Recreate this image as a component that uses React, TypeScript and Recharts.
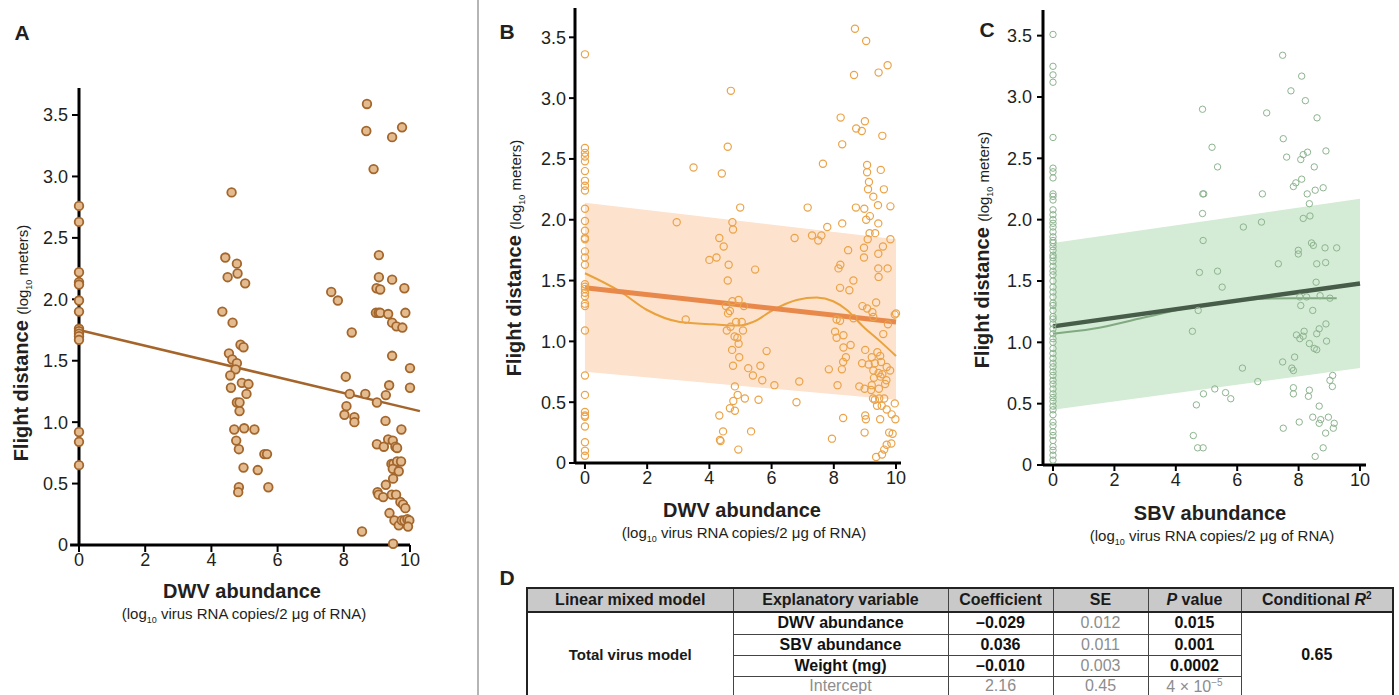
import React from 'react';
import { ComposedChart, Scatter, Line, Area, XAxis, YAxis, ReferenceLine } from 'recharts';

const FONT = '"Liberation Sans", Arial, Helvetica, sans-serif';
const INK = '#231f20';

const X_TICKS = [0, 2, 4, 6, 8, 10];
const Y_TICKS = [0, 0.5, 1, 1.5, 2, 2.5, 3, 3.5];

// panel A: DWV abundance vs flight distance
const A_ZERO = [2.76, 2.63, 2.22, 2.14, 2.12, 1.99, 1.9, 1.76, 1.74, 1.72, 1.7, 1.67, 0.92, 0.84, 0.65];
const A_POINTS = [
  [4.61, 2.87], [4.42, 2.34], [4.77, 2.29], [4.49, 2.18], [4.79, 2.21], [5.02, 2.13], [4.33, 1.9], [4.64, 1.81],
  [4.88, 1.63], [4.97, 1.61], [4.53, 1.56], [4.63, 1.51], [4.77, 1.48], [4.73, 1.43], [4.57, 1.38], [4.92, 1.32],
  [5.12, 1.31], [4.59, 1.28], [5.06, 1.23], [4.77, 1.16], [4.85, 1.16], [4.85, 1.09], [4.69, 0.94], [4.99, 0.95],
  [5.3, 0.94], [4.75, 0.85], [4.83, 0.78], [5.6, 0.74], [5.68, 0.74], [4.97, 0.63], [5.4, 0.61], [4.83, 0.47],
  [4.81, 0.43], [5.72, 0.47],
  [8.7, 3.59], [8.68, 3.37], [9.76, 3.4], [9.46, 3.32], [8.9, 3.06], [9.06, 2.36], [9.06, 2.18], [9.46, 2.16],
  [8.99, 2.09], [9.1, 2.08], [9.83, 2.09], [7.62, 2.06], [7.82, 1.99], [8.97, 1.89], [9.05, 1.89], [9.1, 1.89],
  [9.34, 1.88], [9.86, 1.89], [9.46, 1.81], [9.59, 1.78], [9.77, 1.77], [8.24, 1.73], [9.46, 1.54], [10.0, 1.44],
  [8.06, 1.37], [9.37, 1.3], [10.0, 1.28], [8.18, 1.23], [8.65, 1.23], [9.27, 1.22], [9.0, 1.16], [8.08, 1.13],
  [8.02, 1.06], [8.32, 1.04], [8.32, 1.0], [9.26, 1.01], [9.74, 0.94], [9.0, 0.82], [9.21, 0.8], [9.34, 0.86],
  [9.48, 0.85], [9.56, 0.8], [9.61, 0.79], [9.44, 0.66], [9.5, 0.66], [9.61, 0.68], [9.73, 0.68], [9.48, 0.62],
  [9.66, 0.6], [9.49, 0.54], [9.27, 0.49], [9.02, 0.43], [9.05, 0.41], [9.19, 0.39], [9.45, 0.41], [9.58, 0.41],
  [9.71, 0.35], [9.79, 0.33], [9.86, 0.3], [9.38, 0.26], [9.53, 0.2], [9.66, 0.16], [9.75, 0.2], [9.83, 0.2],
  [9.92, 0.21], [9.98, 0.2], [9.94, 0.15], [8.55, 0.11], [9.49, 0.01],
];
const A_FIT = [{ x: 0, y: 1.75 }, { x: 10.3, y: 1.09 }];

// panel B: DWV abundance, model fit
const B_ZERO = [3.36, 2.59, 2.55, 2.52, 2.48, 2.4, 2.32, 2.28, 2.24, 2.09, 1.99, 1.91, 1.85, 1.84, 1.74, 1.69, 1.63,
  1.47, 1.45, 1.43, 1.4, 1.37, 1.31, 1.29, 1.09, 0.72, 0.56, 0.42, 0.39, 0.38, 0.3, 0.17, 0.1, 0.06];
const B_POINTS = [
  [2.95, 1.98], [3.49, 2.43], [3.24, 1.18], [4.0, 1.67], [4.23, 1.69], [4.32, 1.85], [4.46, 1.78], [4.4, 2.38],
  [4.59, 2.6], [4.69, 3.06], [4.99, 2.1], [4.74, 1.98], [4.76, 1.92], [4.62, 1.63], [4.59, 1.5], [5.47, 1.59],
  [4.74, 1.33], [4.94, 1.34], [5.11, 1.29], [4.53, 1.29], [4.66, 1.25], [4.6, 1.23], [4.86, 1.16], [5.04, 1.16],
  [4.56, 1.09], [4.68, 1.12], [5.08, 1.09], [4.81, 1.04], [4.9, 1.03], [4.94, 0.98], [4.73, 0.93], [5.84, 0.92],
  [4.96, 0.87], [4.76, 0.8], [5.25, 0.78], [5.64, 0.8], [5.4, 0.72], [5.7, 0.68], [6.09, 0.64], [6.89, 0.67],
  [7.84, 0.77], [4.82, 0.63], [4.91, 0.56], [4.77, 0.51], [5.14, 0.53], [5.58, 0.52], [6.8, 0.5], [4.66, 0.45],
  [4.82, 0.43], [4.32, 0.39], [4.44, 0.26], [5.34, 0.26], [4.34, 0.19], [4.36, 0.18], [4.93, 0.11], [7.94, 0.2],
  [7.65, 2.46], [7.16, 2.1], [7.79, 1.94], [6.74, 1.85], [7.3, 1.87], [7.6, 1.87], [7.5, 1.83],
  [8.68, 3.57], [9.04, 3.47], [9.73, 3.27], [9.44, 3.21], [8.65, 3.19], [8.22, 2.84], [9.0, 2.81], [8.72, 2.75],
  [8.9, 2.73], [9.56, 2.69], [8.27, 2.62], [9.07, 2.45], [9.07, 2.39], [9.51, 2.41], [9.13, 2.31], [9.1, 2.25],
  [9.61, 2.25], [9.27, 2.19], [8.71, 2.1], [8.98, 2.09], [9.42, 2.12], [9.82, 2.11], [9.16, 2.03], [9.04, 2.0],
  [8.27, 1.97], [9.43, 1.97], [9.15, 1.89], [9.33, 1.89], [9.09, 1.84], [9.82, 1.84], [8.46, 1.75], [8.97, 1.77],
  [9.58, 1.78], [8.97, 1.69], [9.43, 1.72], [8.21, 1.63], [8.15, 1.6], [9.43, 1.6], [9.73, 1.6], [9.44, 1.53],
  [8.63, 1.5], [8.2, 1.44], [8.5, 1.42], [9.36, 1.32], [8.92, 1.29], [9.07, 1.27], [9.24, 1.24], [10.0, 1.23],
  [9.96, 1.22], [8.09, 1.18], [8.2, 1.17], [9.27, 1.2], [8.63, 1.19], [9.74, 1.14], [8.04, 1.08], [8.31, 1.05],
  [8.09, 1.03], [9.59, 1.06], [8.54, 0.97], [8.31, 0.95], [9.01, 0.93], [9.4, 0.91], [9.49, 0.88], [8.39, 0.87],
  [8.3, 0.83], [8.91, 0.82], [9.22, 0.87], [9.12, 0.81], [9.32, 0.82], [9.52, 0.83], [9.7, 0.79], [9.81, 0.76],
  [8.26, 0.77], [9.27, 0.76], [9.44, 0.74], [9.56, 0.73], [9.5, 0.71], [9.29, 0.7], [9.69, 0.68], [9.65, 0.65],
  [8.12, 0.64], [8.82, 0.63], [8.99, 0.61], [9.22, 0.64], [9.45, 0.61], [9.2, 0.6], [9.26, 0.53], [9.32, 0.52],
  [9.46, 0.53], [9.62, 0.53], [9.96, 0.49], [9.39, 0.47], [9.54, 0.47], [8.3, 0.37], [9.01, 0.39], [9.03, 0.36],
  [9.49, 0.36], [9.7, 0.44], [9.86, 0.4], [9.98, 0.36], [8.99, 0.25], [9.78, 0.25], [9.89, 0.24], [9.7, 0.15],
  [9.85, 0.16], [9.62, 0.11], [9.55, 0.07], [9.36, 0.05],
];
const B_LOESS = [[0, 1.56], [1.13, 1.41], [1.98, 1.26], [3.05, 1.16], [4.13, 1.14], [4.98, 1.13], [5.41, 1.16],
  [6.06, 1.26], [6.81, 1.34], [7.45, 1.36], [7.98, 1.33], [8.41, 1.26], [8.95, 1.12], [9.49, 1.0], [10.0, 0.88]];
const B_FIT = [[0, 1.44], [10, 1.16]];
const B_BAND = [[0, 0.75, 2.14], [10, 0.52, 1.84]];

// panel C: SBV abundance, model fit
const C_ZERO = [3.51, 3.25, 3.18, 3.12, 2.67, 2.42, 2.39, 2.34, 2.21, 2.19, 2.16, 2.08, 2.04, 2.0, 1.97, 1.94, 1.9,
  1.86, 1.83, 1.81, 1.78, 1.75, 1.71, 1.69, 1.66, 1.62, 1.58, 1.55, 1.5, 1.45, 1.41, 1.37, 1.32, 1.3, 1.26, 1.21,
  1.19, 1.15, 1.11, 1.07, 1.03, 1.0, 0.95, 0.91, 0.87, 0.83, 0.8, 0.76, 0.73, 0.69, 0.66, 0.62, 0.58, 0.55, 0.52,
  0.48, 0.45, 0.41, 0.35, 0.32, 0.27, 0.24, 0.2, 0.15, 0.12, 0.08, 0.04];
const C_POINTS = [
  [4.87, 2.9], [5.18, 2.59], [5.36, 2.43], [4.88, 2.21], [4.91, 2.21], [4.87, 2.05], [4.89, 1.83], [4.77, 1.57],
  [5.36, 1.58], [5.51, 1.45], [4.54, 1.09], [4.73, 1.26], [4.67, 0.49], [4.9, 0.58], [5.27, 0.62], [5.62, 0.59],
  [5.79, 0.54], [4.57, 0.24], [4.71, 0.14], [4.89, 0.14], [6.17, 0.79], [6.2, 1.94], [6.67, 0.68], [6.79, 1.98],
  [6.82, 2.21], [6.96, 2.87], [7.34, 1.64], [7.48, 3.34], [7.5, 2.66], [7.61, 2.51], [7.48, 0.84], [7.5, 0.3],
  [7.75, 3.05], [7.83, 2.27], [7.91, 2.3], [7.78, 0.79], [7.83, 0.77], [7.87, 0.88], [7.83, 0.63], [7.83, 0.58],
  [7.99, 1.75], [7.99, 1.72], [7.93, 1.06], [8.04, 1.03], [8.07, 1.3], [8.02, 0.35], [8.1, 3.17], [8.07, 2.49],
  [8.15, 2.53], [8.29, 2.55], [8.1, 2.33], [8.22, 2.97], [8.28, 2.21], [8.35, 2.13], [8.37, 2.03], [8.15, 2.01],
  [8.42, 1.81], [8.48, 1.79], [8.18, 1.09], [8.15, 1.05], [8.35, 0.99], [8.51, 0.95], [8.59, 0.94], [8.46, 1.26],
  [8.57, 1.49], [8.51, 2.43], [8.54, 2.24], [8.6, 2.83], [8.59, 1.64], [8.59, 1.07], [8.67, 1.11], [8.35, 0.61],
  [8.32, 0.56], [8.67, 0.48], [8.46, 0.39], [8.67, 0.34], [8.72, 0.37], [8.8, 0.14], [8.54, 0.07], [8.88, 0.26],
  [8.8, 2.26], [8.89, 2.56], [8.86, 1.77], [8.88, 1.65], [8.89, 1.15], [8.91, 1.01], [8.97, 0.39], [9.02, 0.69],
  [9.11, 0.73], [9.1, 0.64], [9.13, 0.3], [9.16, 0.34], [9.24, 1.77], [9.02, 1.36], [8.7, 1.38], [8.26, 1.37],
  [8.04, 1.37],
];
const C_LOESS = [[0, 1.07], [1.3, 1.11], [2.93, 1.2], [4.57, 1.29], [6.2, 1.345], [7.83, 1.36], [9.24, 1.36]];
const C_FIT = [[0, 1.13], [10, 1.48]];
const C_BAND = [[0, 0.45, 1.81], [10, 0.79, 2.17]];

// table D
const TABLE_HEAD = ['Linear mixed model', 'Explanatory variable', 'Coefficient', 'SE', 'P value', 'Conditional R2'];
const TABLE_ROWS = [
  ['DWV abundance', '\u20130.029', '0.012', '0.015'],
  ['SBV abundance', '0.036', '0.011', '0.001'],
  ['Weight (mg)', '\u20130.010', '0.003', '0.0002'],
  ['Intercept', '2.16', '0.45', '4 \u00d7 10'],
];
const MODEL_NAME = 'Total virus model';
const R2 = '0.65';

const pts = (zero: number[], rest: number[][]) =>
  [...zero.map((y) => ({ x: 0, y })), ...rest.map(([x, y]) => ({ x, y }))];
const xy = (arr: number[][]) => arr.map(([x, y]) => ({ x, y }));
const band = (arr: number[][]) => arr.map(([x, lo, hi]) => ({ x, band: [lo, hi] }));

const fmtY = (v: number) => (v === 0 ? '0' : v.toFixed(1));
const tickStyle = { fontSize: 18, fill: INK, fontFamily: FONT };
const axisStyle = { stroke: '#000', strokeWidth: 3 };
const tickLineStyle = { stroke: '#000', strokeWidth: 2 };

const ring = (r: number, stroke: string, sw: number, fill = 'none') => (p: any) =>
  <circle cx={p.cx} cy={p.cy} r={r} fill={fill} stroke={stroke} strokeWidth={sw} />;

const Txt = ({ x, y, size, bold, children, rotate }: any) => (
  <div
    style={{
      position: 'absolute', left: x, top: y, whiteSpace: 'nowrap', lineHeight: 1,
      transform: `translate(-50%, -50%)${rotate ? ' rotate(-90deg)' : ''}`,
      fontFamily: FONT, fontSize: size, fontWeight: bold ? 700 : 400, color: INK,
    }}
  >
    {children}
  </div>
);

const YTitle = ({ x, y }: any) => (
  <Txt x={x} y={y} size={20} bold rotate>
    Flight distance{' '}
    <span style={{ fontSize: 15, fontWeight: 400 }}>
      (log<sub style={{ fontSize: 9 }}>10</sub> meters)
    </span>
  </Txt>
);

const XTitle = ({ x, y, name }: any) => (
  <>
    <Txt x={x} y={y} size={20} bold>{name}</Txt>
    <Txt x={x + 2} y={y + 24} size={15}>
      (log<sub style={{ fontSize: 9 }}>10</sub> virus RNA copies/2 μg of RNA)
    </Txt>
  </>
);

const ModelPanel = ({ left, width, margin, xDomain, yDomain, yTickMargin, zero, rest, loess, fit, bandData, c }: any) => (
  <div style={{ position: 'absolute', left, top: 0 }}>
    <ComposedChart width={width} height={500} margin={margin}>
      <XAxis type="number" dataKey="x" domain={xDomain} ticks={X_TICKS} tick={tickStyle}
        axisLine={axisStyle} tickLine={tickLineStyle} tickSize={6} tickMargin={2} />
      <YAxis type="number" domain={yDomain} ticks={Y_TICKS} tickFormatter={fmtY} tick={tickStyle} width={55}
        axisLine={axisStyle} tickLine={tickLineStyle} tickSize={6} tickMargin={yTickMargin} />
      <Area data={band(bandData)} dataKey="band" type="linear" stroke="none" fill={c.band} fillOpacity={1}
        isAnimationActive={false} />
      <Scatter data={pts(zero, rest)} dataKey="y" shape={ring(c.r, c.point, c.sw)} isAnimationActive={false} />
      <Line data={xy(loess)} dataKey="y" type="monotone" stroke={c.loess} strokeWidth={2} dot={false}
        isAnimationActive={false} />
      <Line data={xy(fit)} dataKey="y" type="linear" stroke={c.fit} strokeWidth={c.fitW} dot={false}
        isAnimationActive={false} />
    </ComposedChart>
  </div>
);

const cell: React.CSSProperties = {
  border: '1px solid #444', textAlign: 'center', padding: 0, fontFamily: FONT, lineHeight: 1,
};

const App = () => (
  <div style={{ position: 'absolute', left: 0, top: 0, width: 1399, height: 695, overflow: 'hidden', background: '#fff' }}>
    {/* panel A */}
    <div style={{ position: 'absolute', left: 0, top: 0 }}>
      <ComposedChart width={440} height={600} margin={{ top: 88, right: 30, bottom: 25, left: 19 }}>
        <XAxis type="number" dataKey="x" domain={[0, 10]} ticks={X_TICKS} tick={tickStyle}
          axisLine={axisStyle} tickLine={tickLineStyle} tickSize={7} tickMargin={1} />
        <YAxis type="number" domain={[0, 3.72]} ticks={Y_TICKS} tickFormatter={fmtY} tick={tickStyle} width={60}
          axisLine={axisStyle} tickLine={tickLineStyle} tickSize={7} tickMargin={4} />
        <ReferenceLine segment={[{ x: -0.27, y: 0 }, { x: 0, y: 0 }]} ifOverflow="visible" stroke="#000" strokeWidth={3} />
        <Scatter data={pts(A_ZERO, A_POINTS)} dataKey="y" shape={ring(4.3, '#a3662c', 1.8, '#e4bb8f')}
          isAnimationActive={false} />
        <ReferenceLine segment={A_FIT} ifOverflow="visible" stroke="#a5652a" strokeWidth={2.5} />
      </ComposedChart>
    </div>
    <Txt x={22} y={32} size={21} bold>A</Txt>
    <YTitle x={22} y={343} />
    <XTitle x={242} y={591} name="DWV abundance" />

    <div style={{ position: 'absolute', left: 477, top: 0, width: 2, height: 695, background: '#b5b5b5' }} />

    {/* panel B */}
    <ModelPanel left={480} width={440} margin={{ top: 8, right: 19, bottom: 7, left: 40 }}
      xDomain={[-0.32, 10.16]} yDomain={[0, 3.741]} yTickMargin={3}
      zero={B_ZERO} rest={B_POINTS} loess={B_LOESS} fit={B_FIT} bandData={B_BAND}
      c={{ band: '#fde2cd', point: '#eba348', r: 3.6, sw: 1.2, loess: '#e9a23c', fit: '#e8894b', fitW: 5 }} />
    <Txt x={507} y={31} size={21} bold>B</Txt>
    <YTitle x={515} y={258} />
    <XTitle x={742} y={510} name="DWV abundance" />

    {/* panel C */}
    <ModelPanel left={960} width={439} margin={{ top: 10, right: 33, bottom: 5, left: 28 }}
      xDomain={[-0.326, 10.195]} yDomain={[0, 3.709]} yTickMargin={5}
      zero={C_ZERO} rest={C_POINTS} loess={C_LOESS} fit={C_FIT} bandData={C_BAND}
      c={{ band: '#d4ebd5', point: '#8db48f', r: 3.2, sw: 1, loess: '#82a981', fit: '#475c49', fitW: 4.5 }} />
    <Txt x={987} y={29} size={21} bold>C</Txt>
    <YTitle x={983} y={250} />
    <XTitle x={1210} y={513} name="SBV abundance" />

    {/* panel D */}
    <Txt x={507} y={577} size={21} bold>D</Txt>
    <table style={{ position: 'absolute', left: 526, top: 587, width: 866, borderCollapse: 'collapse', border: '2px solid #222', tableLayout: 'fixed' }}>
      <colgroup>
        {[206, 215, 105, 95, 93, 152].map((w, i) => <col key={i} style={{ width: w }} />)}
      </colgroup>
      <tbody>
        <tr style={{ height: 24, background: '#c9c9c9' }}>
          {TABLE_HEAD.map((h, i) => (
            <td key={i} style={{ ...cell, fontWeight: 700, fontSize: 16, color: '#1a1a1a', borderBottom: '2px solid #222' }}>
              {i === 4 ? <><i>P</i> value</> : i === 5 ? <>Conditional <i>R</i><sup style={{ fontSize: 10 }}>2</sup></> : h}
            </td>
          ))}
        </tr>
        {TABLE_ROWS.map((row, ri) => {
          const grey = ri === 3;
          return (
            <tr key={ri} style={{ height: ri === 0 ? 22 : 21 }}>
              {ri === 0 && (
                <td rowSpan={4} style={{ ...cell, fontWeight: 700, fontSize: 15, color: '#1a1a1a' }}>{MODEL_NAME}</td>
              )}
              {row.map((v, ci) => (
                <td key={ci} style={{
                  ...cell, fontSize: 16,
                  fontWeight: grey || ci === 2 ? 400 : 700,
                  color: grey || ci === 2 ? '#8d8d8d' : '#111',
                }}>
                  {v}{grey && ci === 3 ? <sup style={{ fontSize: 10 }}>{'\u22125'}</sup> : null}
                </td>
              ))}
              {ri === 0 && (
                <td rowSpan={4} style={{ ...cell, fontWeight: 700, fontSize: 16, color: '#111' }}>{R2}</td>
              )}
            </tr>
          );
        })}
      </tbody>
    </table>
  </div>
);

export default App;
